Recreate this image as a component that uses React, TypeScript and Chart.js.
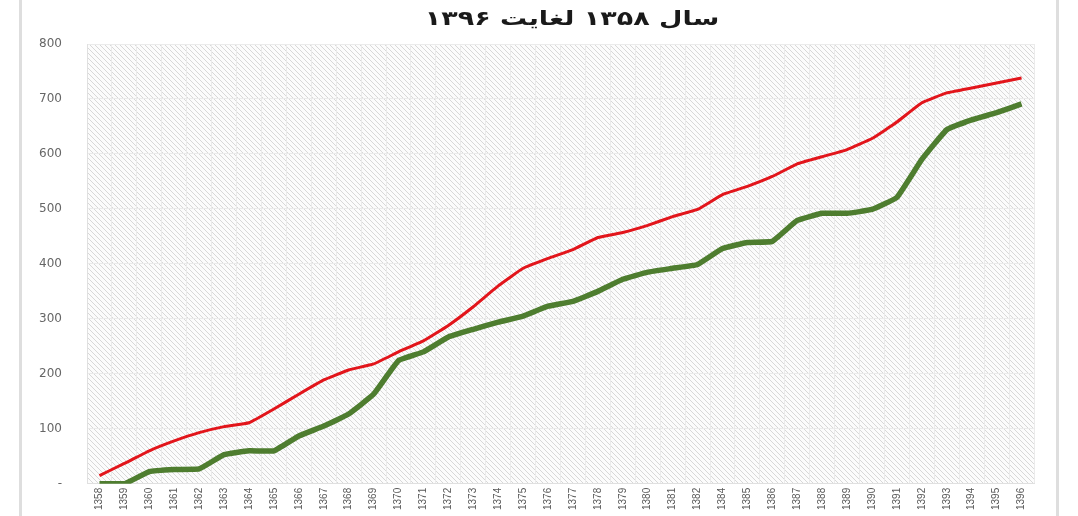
import React, { useEffect, useRef } from "react";
import { Chart, registerables } from "chart.js";

Chart.register(...registerables);

const categories = [
  "1358", "1359", "1360", "1361", "1362", "1363", "1364", "1365", "1366", "1367",
  "1368", "1369", "1370", "1371", "1372", "1373", "1374", "1375", "1376", "1377",
  "1378", "1379", "1380", "1381", "1382", "1384", "1385", "1386", "1387", "1388",
  "1389", "1390", "1391", "1392", "1393", "1394", "1395", "1396",
];

const redValues = [
  15, 37, 60, 78, 93, 104, 111, 136, 163, 189,
  207, 218, 240, 260, 288, 322, 360, 392, 410, 426,
  448, 457, 470, 486, 499, 526, 541, 559, 582, 595,
  608, 628, 658, 693, 711, 720, 729, 738,
];

const greenValues = [
  0, 0, 22, 26, 27, 53, 60, 60, 87, 105,
  127, 163, 224, 240, 267, 281, 294, 305, 323, 332,
  350, 372, 385, 392, 399, 428, 439, 441, 479, 492,
  492, 499, 521, 590, 644, 662, 675, 691,
];

const yTicks = [0, 100, 200, 300, 400, 500, 600, 700, 800];
const titleText = "سال ۱۳۵۸ لغایت ۱۳۹۶";

function makePattern(ctx: CanvasRenderingContext2D) {
  const size = 5;
  const c = document.createElement("canvas");
  c.width = size;
  c.height = size;
  const p = c.getContext("2d")!;
  p.fillStyle = "#fcfcfc";
  p.fillRect(0, 0, size, size);
  p.strokeStyle = "#d8d8d8";
  p.lineWidth = 1;
  p.beginPath();
  p.moveTo(-1, -1);
  p.lineTo(size + 1, size + 1);
  p.moveTo(-1 - size, -1);
  p.lineTo(1, size + 1);
  p.moveTo(size - 1, -1);
  p.lineTo(2 * size + 1, size + 1);
  p.stroke();
  return ctx.createPattern(c, "repeat");
}

const hatchPlugin = {
  id: "hatchBg",
  beforeDraw(chart: any) {
    const { ctx, chartArea } = chart;
    if (!chartArea) return;
    const pat = makePattern(ctx);
    ctx.save();
    ctx.fillStyle = pat || "#eee";
    ctx.fillRect(chartArea.left, chartArea.top, chartArea.right - chartArea.left, chartArea.bottom - chartArea.top);
    ctx.restore();
  },
};

export default function App() {
  const ref = useRef<HTMLCanvasElement | null>(null);

  useEffect(() => {
    if (!ref.current) return;
    const chart = new Chart(ref.current, {
      type: "line",
      data: {
        labels: categories,
        datasets: [
          {
            data: redValues,
            borderColor: "#e2151b",
            borderWidth: 3,
            pointRadius: 0,
            tension: 0.1,
            fill: false,
          },
          {
            data: greenValues,
            borderColor: "#4e7d2f",
            borderWidth: 5.5,
            pointRadius: 0,
            tension: 0.1,
            fill: false,
          },
        ],
      },
      options: {
        animation: false,
        responsive: false,
        maintainAspectRatio: false,
        layout: { padding: { left: 0, right: 44, top: 44, bottom: 0 } },
        plugins: {
          legend: { display: false },
          tooltip: { enabled: false },
          title: { display: false },
        },
        scales: {
          x: {
            offset: true,
            grid: { color: "#ebebeb", lineWidth: 1, drawTicks: false, offset: true },
            border: { display: true, color: "#e0e0e0" },
            ticks: {
              autoSkip: false,
              minRotation: 90,
              maxRotation: 90,
              padding: 4,
              color: "#595959",
              font: { family: "Liberation Sans", size: 10 },
            },
            afterFit: (s: any) => {
              s.height = 31;
            },
          },
          y: {
            min: 0,
            max: 800,
            afterBuildTicks: (s: any) => {
              s.ticks = yTicks.map((v) => ({ value: v }));
            },
            grid: { color: "#ebebeb", lineWidth: 1, drawTicks: false },
            border: { display: true, color: "#e0e0e0" },
            ticks: {
              padding: 25,
              color: "#666666",
              font: { family: "DejaVu Sans", size: 12 },
              callback: (v: any) => (Number(v) === 0 ? "-" : String(v)),
            },
            afterFit: (s: any) => {
              s.width = 87;
            },
          },
        },
      },
      plugins: [hatchPlugin],
    });
    return () => chart.destroy();
  }, []);

  return (
    <div style={{ position: "fixed", left: 0, top: 0, width: 1078, height: 516, background: "#fff", overflow: "hidden" }}>
      <canvas ref={ref} width={1078} height={516} style={{ position: "absolute", left: 0, top: 0, width: 1078, height: 516 }} />
      <div style={{ position: "absolute", left: 19, top: 0, width: 3, height: 516, background: "#dedede" }} />
      <div style={{ position: "absolute", left: 1056, top: 0, width: 3, height: 516, background: "#dedede" }} />
      <div
        dir="rtl"
        style={{
          position: "absolute",
          left: 372,
          width: 400,
          top: 3,
          textAlign: "center",
          fontFamily: "DejaVu Sans",
          fontWeight: "bold",
          fontSize: 20,
          lineHeight: "30px",
          color: "#1a1a1a",
          whiteSpace: "nowrap",
          transform: "scaleX(1.35)",
          transformOrigin: "center",
        }}
      >
        {titleText}
      </div>
    </div>
  );
}
